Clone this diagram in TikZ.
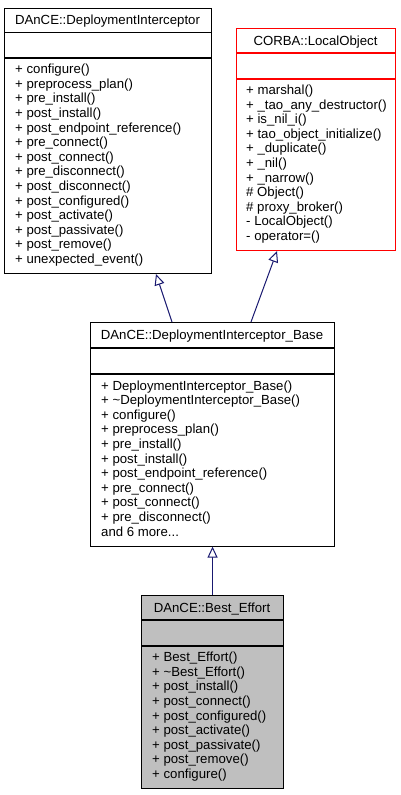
\documentclass[tikz,border=0pt]{standalone}
\usepackage{fontspec}
\setmainfont{Liberation Sans}
\usetikzlibrary{arrows.meta}
\definecolor{edgeblue}{RGB}{25,25,112}
\definecolor{classred}{RGB}{255,0,0}
\definecolor{classgray}{RGB}{191,191,191}
\tikzset{
  classbox/.style={draw=black, line width=1.1pt, inner sep=0pt, anchor=north west},
  sepline/.style={line width=1.1pt},
  memtext/.style={anchor=base west, inner sep=0pt, font=\fontsize{13.2}{14.6}\selectfont},
  titletext/.style={anchor=base, inner sep=0pt, font=\fontsize{13.2}{14.6}\selectfont},
  inherit/.style={draw=edgeblue, line width=1pt, -{Triangle[open, length=11pt, width=10pt, fill=white]}},
}
\begin{document}
\begin{tikzpicture}[x=1pt,y=-1pt]
\useasboundingbox (0,0) rectangle (401,795);
% Box 1
\node[classbox, minimum width=207pt, minimum height=265.5pt] (b1) at (4,7.5) {};
\draw[sepline] ([yshift=-25pt]b1.north west) -- ([yshift=-25pt]b1.north east);
\draw[sepline] ([yshift=-50.5pt]b1.north west) -- ([yshift=-50.5pt]b1.north east);
\node[titletext] (b1t) at (107.5,24.5) {DAnCE::DeploymentInterceptor};
\foreach \t [count=\i] in {+ configure(), + preprocess\_plan(), + pre\_install(), + post\_install(), + post\_endpoint\_reference(), + pre\_connect(), + post\_connect(), + pre\_disconnect(), + post\_disconnect(), + post\_configured(), + post\_activate(), + post\_passivate(), + post\_remove(), + unexpected\_event()}
  \node[memtext] (b1m\i) at (15,{73.7+(\i-1)*14.6}) {\t};
% Box 2
\node[classbox, draw=classred, minimum width=159pt, minimum height=222pt] (b2) at (236,28) {};
\draw[sepline, classred] ([yshift=-25pt]b2.north west) -- ([yshift=-25pt]b2.north east);
\draw[sepline, classred] ([yshift=-51pt]b2.north west) -- ([yshift=-51pt]b2.north east);
\node[titletext] (b2t) at (315.5,45) {CORBA::LocalObject};
\foreach \t [count=\i] in {+ marshal(), + \_tao\_any\_destructor(), + is\_nil\_i(), + tao\_object\_initialize(), + \_duplicate(), + \_nil(), + \_narrow(), \# Object(), \# proxy\_broker(), - LocalObject(), - operator=()}
  \node[memtext] (b2m\i) at (246,{94.5+(\i-1)*14.6}) {\t};
% Box 3
\node[classbox, minimum width=244pt, minimum height=223.5pt] (b3) at (90,322) {};
\draw[sepline] ([yshift=-26pt]b3.north west) -- ([yshift=-26pt]b3.north east);
\draw[sepline] ([yshift=-52pt]b3.north west) -- ([yshift=-52pt]b3.north east);
\node[titletext] (b3t) at (212,339) {DAnCE::DeploymentInterceptor\_Base};
\foreach \t [count=\i] in {+ DeploymentInterceptor\_Base(), + \textasciitilde DeploymentInterceptor\_Base(), + configure(), + preprocess\_plan(), + pre\_install(), + post\_install(), + post\_endpoint\_reference(), + pre\_connect(), + post\_connect(), + pre\_disconnect()}
  \node[memtext] (b3m\i) at (101,{390+(\i-1)*14.6}) {\t};
\node[memtext] (b3more) at (101,{390+10*14.6}) {and 6 more...};
% Box 4
\node[classbox, fill=classgray, minimum width=142pt, minimum height=193pt] (b4) at (141,595) {};
\draw[sepline] ([yshift=-25pt]b4.north west) -- ([yshift=-25pt]b4.north east);
\draw[sepline] ([yshift=-51pt]b4.north west) -- ([yshift=-51pt]b4.north east);
\node[titletext] (b4t) at (212,612) {DAnCE::Best\_Effort};
\foreach \t [count=\i] in {+ Best\_Effort(), + \textasciitilde Best\_Effort(), + post\_install(), + post\_connect(), + post\_configured(), + post\_activate(), + post\_passivate(), + post\_remove(), + configure()}
  \node[memtext] (b4m\i) at (152,{661.7+(\i-1)*14.6}) {\t};
% Inheritance arrows
\draw[inherit] ([xshift=82pt]b3.north west) -- ([xshift=152pt]b1.south west);
\draw[inherit] ([xshift=161pt]b3.north west) -- ([xshift=41pt]b2.south west);
\draw[inherit] (b4.north) -- (b3.south);
\end{tikzpicture}
\end{document}
